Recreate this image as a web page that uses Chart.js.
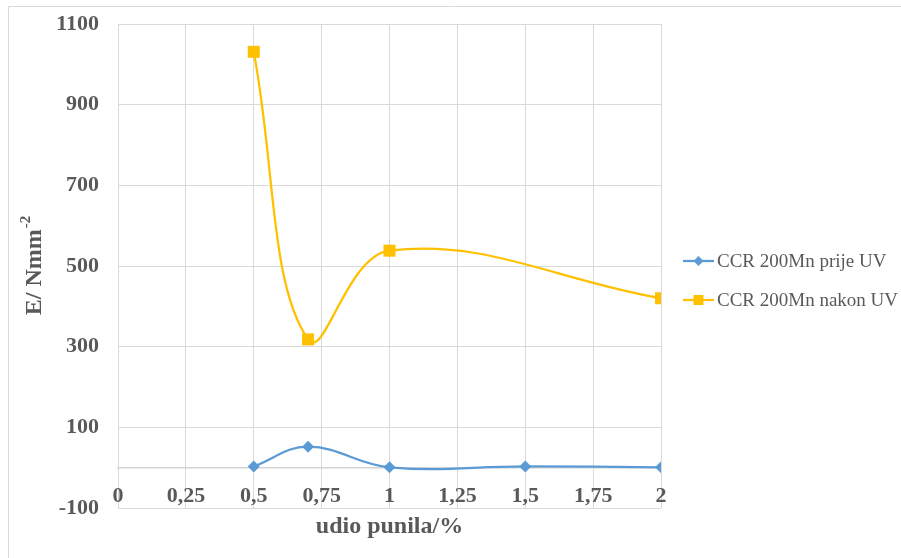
<!DOCTYPE html>
<html>
<head>
<meta charset="utf-8">
<script src="https://cdn.jsdelivr.net/npm/chart.js@4"></script>
<style>
  html, body { margin: 0; padding: 0; background: #fff; }
  #wrap { position: relative; width: 901px; height: 558px; }
</style>
</head>
<body>
<div id="wrap"><canvas id="chart"></canvas></div>
<script>
// Data
const xPrije = [0.5, 0.7, 1, 1.5, 2];
const yPrije = [3, 52, 1, 3, 1];
const xNakon = [0.5, 0.7, 1, 2];
const yNakon = [1031, 318, 538, 420];

const seriesLabels = ['CCR 200Mn prije UV', 'CCR 200Mn nakon UV'];
const xTitle = 'udio punila/%';
const yTitleMain = 'E/ Nmm';
const yTitleSup = '-2';

const BLUE = '#5B9BD5';
const ORANGE = '#FFC000';
const TEXT = '#595959';
const GRID = '#d9d9d9';
const SERIF = '"Liberation Serif", "Times New Roman", serif';

const toPoints = (xs, ys) => xs.map((x, i) => ({ x: x, y: ys[i] }));

// frame, axis titles and legend drawn by hand (Excel style)
const decor = {
    id: 'decor',
    beforeDraw(chart) {
        const c = chart.ctx;
        c.save();
        c.strokeStyle = GRID;
        c.lineWidth = 1;
        c.beginPath();
        c.moveTo(8.5, 558);
        c.lineTo(8.5, 6.5);
        c.lineTo(901, 6.5);
        c.stroke();
        c.restore();
    },
    afterDraw(chart) {
        const c = chart.ctx;
        const area = chart.chartArea;
        c.save();
        c.fillStyle = TEXT;

        // x title
        c.font = 'bold 24px ' + SERIF;
        c.textAlign = 'center';
        c.textBaseline = 'middle';
        c.fillText(xTitle, (area.left + area.right) / 2, 527);

        // y title, rotated, with superscript
        c.translate(33, 266);
        c.rotate(-Math.PI / 2);
        c.font = 'bold 24px ' + SERIF;
        const wMain = c.measureText(yTitleMain).width;
        c.font = 'bold 15px ' + SERIF;
        const wSup = c.measureText(yTitleSup).width;
        const x0 = -(wMain + wSup) / 2;
        c.textAlign = 'left';
        c.textBaseline = 'alphabetic';
        c.font = 'bold 24px ' + SERIF;
        c.fillText(yTitleMain, x0, 8);
        c.font = 'bold 15px ' + SERIF;
        c.fillText(yTitleSup, x0 + wMain + 1, -3);
        c.setTransform(1, 0, 0, 1, 0, 0);

        // legend
        const rows = [261, 300];
        chart.data.datasets.forEach((ds, i) => {
            const y = rows[i];
            c.strokeStyle = ds.borderColor;
            c.lineWidth = 2.25;
            c.beginPath();
            c.moveTo(683, y);
            c.lineTo(714, y);
            c.stroke();
            c.fillStyle = ds.borderColor;
            c.beginPath();
            if (ds.pointStyle === 'rectRot') {
                c.moveTo(698.5, y - 5);
                c.lineTo(703.5, y);
                c.lineTo(698.5, y + 5);
                c.lineTo(693.5, y);
            } else {
                c.rect(693.5, y - 5, 10, 10);
            }
            c.fill();
            c.fillStyle = TEXT;
            c.font = '19px ' + SERIF;
            c.textAlign = 'left';
            c.textBaseline = 'middle';
            c.fillText(ds.label, 717, y + 1);
        });
        c.restore();
    }
};

new Chart(document.getElementById('chart'), {
    type: 'line',
    data: {
        datasets: [{
            label: seriesLabels[0],
            data: toPoints(xPrije, yPrije),
            borderColor: BLUE,
            backgroundColor: BLUE,
            borderWidth: 2.25,
            pointStyle: 'rectRot',
            pointRadius: 6,
            pointBorderWidth: 0,
            tension: 0.4,
            fill: false
        }, {
            label: seriesLabels[1],
            data: toPoints(xNakon, yNakon),
            borderColor: ORANGE,
            backgroundColor: ORANGE,
            borderWidth: 2.25,
            pointStyle: 'rect',
            pointRadius: 8.5,
            pointBorderWidth: 0,
            tension: 0.4,
            fill: false
        }]
    },
    options: {
        responsive: true,
        maintainAspectRatio: false,
        animation: false,
        devicePixelRatio: 1,
        elements: { line: { capBezierPoints: false } },
        layout: { padding: { left: 0, top: 24, right: 240, bottom: 50 } },
        plugins: {
            legend: { display: false },
            tooltip: { enabled: false }
        },
        scales: {
            x: {
                type: 'linear',
                position: { y: 0 },
                min: 0,
                max: 2,
                ticks: {
                    stepSize: 0.25,
                    color: TEXT,
                    font: { family: SERIF, size: 22, weight: 'bold' },
                    padding: 15,
                    maxRotation: 0,
                    callback: v => String(v).replace('.', ',')
                },
                grid: { color: GRID, lineWidth: 1, drawTicks: false },
                border: { color: '#d4d4d4', width: 1.5 }
            },
            y: {
                type: 'linear',
                min: -100,
                max: 1100,
                afterFit: scale => {
                    scale.width = 118;
                    scale.paddingTop = 0;
                    scale.paddingBottom = 0;
                },
                ticks: {
                    stepSize: 200,
                    color: TEXT,
                    font: { family: SERIF, size: 22, weight: 'bold' },
                    padding: 19,
                    callback: v => String(v)
                },
                grid: { color: GRID, lineWidth: 1, drawTicks: false },
                border: { display: false }
            }
        }
    },
    plugins: [decor]
});
</script>
</body>
</html>
